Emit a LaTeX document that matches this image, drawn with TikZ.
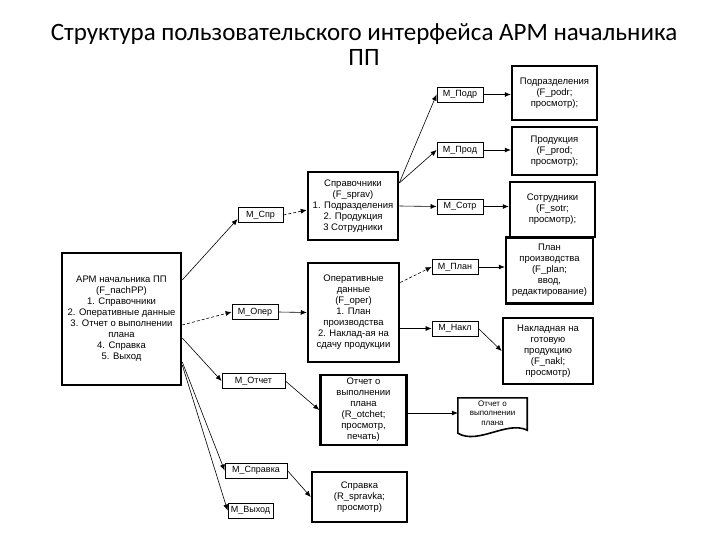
\documentclass[tikz,border=0pt]{standalone}
\usepackage{fontspec}
\setmainfont{Liberation Sans}
\newfontfamily\titlefont{Carlito}
\usetikzlibrary{arrows.meta}

\begin{document}
\begin{tikzpicture}[x=1pt, y=-1pt, >={Latex[length=6pt,width=5pt]},
  bigbox/.style={draw, line width=2.5pt, align=center, inner sep=1pt, font=\fontsize{9.5}{11}\selectfont},
  menubox/.style={draw, line width=0.8pt, inner sep=1pt, minimum width=46pt, minimum height=15pt, font=\fontsize{9}{10}\selectfont},
  link/.style={->, line width=0.6pt}]
\useasboundingbox (0,0) rectangle (720,540);
\node[font=\titlefont\fontsize{25}{25}\selectfont, align=center] (title) at (364,45) {Структура пользовательского интерфейса АРМ начальника\\ПП};
% main window and its menu items
\node[bigbox, minimum width=119pt, minimum height=132pt] (main) at (121.5,319) {АРМ начальника ПП\\(F\_nachPP)\\1. Справочники\\2. Оперативные данные\\3. Отчет о выполнении\\плана\\4. Справка\\5. Выход};
\node[menubox, minimum width=45pt] (mspr) at (260.5,215) {M\_Спр};
\node[menubox] (mopr) at (255,312) {M\_Опер};
\node[menubox, minimum width=63pt] (motch) at (253.5,381) {M\_Отчет};
\node[menubox, minimum width=62pt] (msprk) at (256,470.5) {M\_Справка};
\node[menubox, minimum width=45pt] (mvyh) at (250.5,510.5) {M\_Выход};
% second level forms
\node[bigbox, minimum width=90pt, minimum height=68pt] (sprav) at (353,206) {Справочники\\(F\_sprav)\\1. Подразделения\\2. Продукция\\3 Сотрудники};
\node[bigbox, minimum width=91pt, minimum height=99pt] (oper) at (353.5,312.5) {Оперативные\\данные\\(F\_oper)\\1. План\\производства\\2. Наклад-ая на\\сдачу продукции};
\node[bigbox, minimum width=86pt, minimum height=70pt] (otch) at (363.5,410) {Отчет о\\выполнении\\плана\\(R\_otchet;\\просмотр,\\печать)};
\node[bigbox, minimum width=95pt, minimum height=50pt] (sprk) at (359.5,497) {Справка\\(R\_spravka;\\просмотр)};
% third level
\node[menubox] (mpodr) at (460,94.5) {M\_Подр};
\node[menubox] (mprod) at (460,150) {M\_Прод};
\node[menubox] (msotr) at (460,206.5) {M\_Сотр};
\node[menubox] (mplan) at (455,267) {M\_План};
\node[menubox] (mnakl) at (455,328.5) {M\_Накл};
\node[bigbox, minimum width=85pt, minimum height=54pt] (podr) at (554.5,93) {Подразделения\\(F\_podr;\\просмотр);};
\node[bigbox, minimum width=85pt, minimum height=48pt] (prod) at (554.5,151) {Продукция\\(F\_prod;\\просмотр);};
\node[bigbox, minimum width=85pt, minimum height=55pt] (sotr) at (552.5,209.5) {Сотрудники\\(F\_sotr;\\просмотр);};
\node[bigbox, minimum width=87pt, minimum height=66pt] (plan) at (549.5,270.5) {План\\производства\\(F\_plan;\\ввод,\\редактирование)};
\node[bigbox, minimum width=90pt, minimum height=66pt] (nakl) at (548,351) {Накладная на\\готовую\\продукцию\\(F\_nakl;\\просмотр)};
\node[font=\fontsize{8}{9.5}\selectfont, align=center, minimum width=69pt, minimum height=30pt, inner sep=0pt] (dok) at (492.5,413) {Отчет о\\выполнении\\плана};
\draw[line width=1.6pt] (dok.north west) -- (dok.north east) -- ([yshift=-2pt]dok.south east) .. controls +(-20,-10) and +(20,12) .. ([yshift=-5pt]dok.south west) -- cycle;
% connectors
\draw[link] ([yshift=39pt]main.east) -- ([yshift=-4pt]mspr.west);
\draw[link, densely dashed] ([yshift=-6pt]main.east) -- (mopr.west);
\draw[link] ([yshift=-19pt]main.east) -- (motch.west);
\draw[link] ([yshift=-43pt]main.east) -- (msprk.west);
\draw[link] ([yshift=-46pt]main.east) -- (mvyh.west);
\draw[link, densely dashed] (mspr.east) -- ([yshift=-4pt]sprav.west);
\draw[link] (mopr.east) -- (oper.west);
\draw[link] (motch.east) -- (otch.west);
\draw[link] (msprk.east) -- (sprk.west);
\draw[link] ([yshift=23pt]sprav.east) -- (mpodr.west);
\draw[link] ([yshift=23pt]sprav.east) -- (mprod.west);
\draw[link] (sprav.east) -- (msotr.west);
\draw[link, densely dashed] ([yshift=30pt]oper.east) -- (mplan.west);
\draw[link] (oper.east |- mnakl) -- (mnakl.west);
\draw[link] (mpodr.east) -- (podr.west |- mpodr.east);
\draw[link] (mprod.east) -- (prod.west |- mprod.east);
\draw[link] (msotr.east) -- (sotr.west |- msotr.east);
\draw[link] (mplan.east) -- (plan.west |- mplan.east);
\draw[link] (mnakl.east) -- (nakl.west);
\draw[link] (otch.east |- dok.west) -- (dok.west);
\end{tikzpicture}
\end{document}
